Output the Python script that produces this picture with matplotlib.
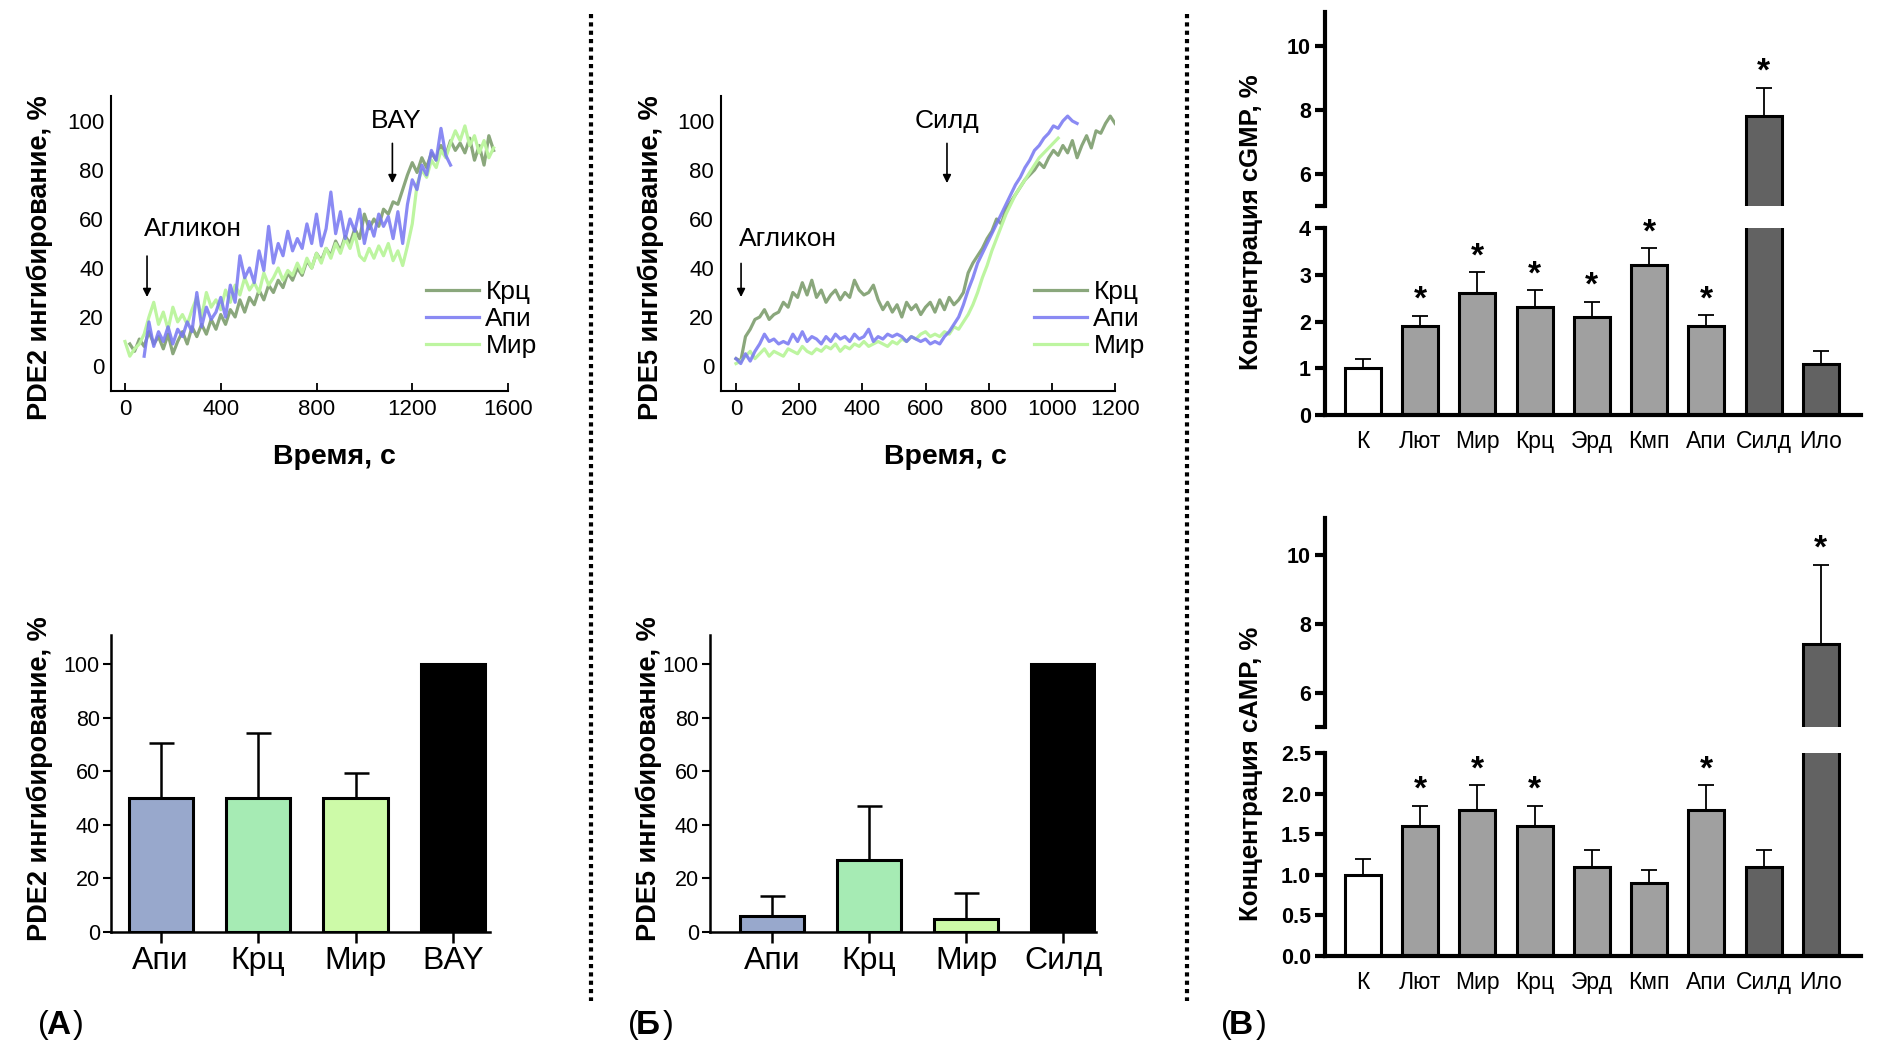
import numpy as np
import matplotlib
matplotlib.use("Agg")
import matplotlib.pyplot as plt
from matplotlib.lines import Line2D

plt.rcParams['font.family'] = ['Liberation Sans', 'DejaVu Sans']

W, H = 1880, 1048

# ---- PDE2 kinetics (panel A, top), sampled every 20 s
step_pde2 = 20
pde2_krc = [9, 6, 11, 8, 14, 9, 12, 7, 13, 5,
            10, 14, 9, 16, 12, 17, 13, 19, 15, 21,
            17, 23, 20, 27, 22, 28, 25, 31, 27, 33,
            30, 35, 32, 38, 35, 40, 37, 43, 40, 46,
            43, 48, 45, 51, 47, 53, 50, 56, 52, 62,
            56, 60, 57, 64, 62, 67, 66, 72, 78, 83,
            79, 85, 81, 87, 84, 90, 86, 92, 88, 91,
            87, 93, 84, 90, 82, 94, 88]            # t = 20..1540
pde2_api = [4, 18, 8, 14, 10, 16, 9, 15, 12, 18,
            14, 30, 16, 24, 19, 22, 28, 20, 33, 26,
            45, 36, 40, 34, 47, 39, 57, 42, 50, 45,
            55, 47, 52, 48, 58, 50, 62, 49, 56, 71,
            54, 63, 52, 60, 55, 64, 50, 59, 53, 62,
            57, 61, 52, 63, 50, 66, 76, 72, 82, 78,
            88, 84, 97, 86, 82]                    # t = 80..1360
pde2_mir = [10, 4, 7, 9, 13, 20, 26, 17, 22, 15,
            24, 18, 21, 17, 23, 28, 20, 30, 24, 27,
            23, 31, 26, 33, 29, 36, 31, 34, 30, 38,
            33, 36, 40, 35, 39, 37, 42, 38, 44, 40,
            46, 42, 48, 44, 50, 46, 52, 48, 54, 45,
            43, 48, 44, 49, 45, 50, 43, 47, 41, 49,
            58, 74, 80, 77, 84, 81, 88, 85, 91, 96,
            92, 98, 90, 94, 87, 92, 85, 89]        # t = 0..1540

# ---- PDE5 kinetics (panel Б, top), sampled every 15 s
step_pde5 = 15
pde5_krc = [3, 2, 12, 15, 19, 20, 23, 19, 21, 22,
            26, 24, 30, 28, 34, 29, 35, 28, 31, 26,
            29, 31, 27, 30, 28, 35, 31, 29, 30, 33,
            27, 23, 26, 22, 25, 20, 26, 23, 25, 21,
            24, 26, 22, 27, 23, 28, 25, 27, 30, 38,
            42, 45, 48, 52, 55, 60, 58, 64, 67, 70,
            73, 76, 78, 80, 83, 81, 85, 88, 86, 90,
            87, 92, 85, 90, 94, 89, 96, 95, 99, 102,
            99]                                    # t = 0..1200
pde5_api = [3, 1, 5, 2, 6, 9, 13, 10, 11, 9,
            10, 9, 13, 10, 14, 10, 12, 11, 9, 12,
            10, 13, 11, 12, 10, 13, 11, 12, 15, 10,
            12, 11, 13, 12, 13, 12, 10, 12, 11, 10,
            11, 9, 10, 9, 12, 14, 17, 20, 25, 31,
            36, 42, 46, 50, 54, 58, 62, 66, 70, 74,
            77, 81, 84, 88, 90, 93, 95, 98, 97, 100,
            102, 100, 99]                          # t = 0..1080
pde5_mir = [1, 2, 4, 6, 3, 5, 7, 4, 6, 5,
            4, 7, 6, 5, 8, 6, 5, 7, 6, 8,
            7, 9, 6, 8, 7, 9, 8, 10, 8, 9,
            10, 9, 8, 10, 9, 11, 10, 12, 11, 13,
            14, 12, 13, 12, 14, 13, 16, 15, 18, 21,
            25, 30, 36, 41, 47, 52, 57, 62, 66, 70,
            73, 76, 79, 82, 85, 87, 89, 91, 93]    # t = 0..1020

# ---- summary bars (bottom of A and Б)
cats_pde2 = ['Апи', 'Крц', 'Мир', 'BAY']
vals_pde2 = [50, 50, 50, 100]
err_pde2 = [20.5, 24.5, 9.5, 0]
cats_pde5 = ['Апи', 'Крц', 'Мир', 'Силд']
vals_pde5 = [6, 27, 5, 100]
err_pde5 = [7.5, 20, 9.5, 0]
summary_colors = ['#98a8cc', '#a6ebb4', '#cdfaa8', '#000000']

# ---- cyclic nucleotides (panel В)
cats_cn = ['К', 'Лют', 'Мир', 'Крц', 'Эрд', 'Кмп', 'Апи', 'Силд', 'Ило']
cgmp = [1.0, 1.9, 2.6, 2.3, 2.1, 3.2, 1.9, 7.8, 1.1]
cgmp_err = [0.2, 0.22, 0.45, 0.37, 0.32, 0.37, 0.23, 0.9, 0.26]
cgmp_sig = [False, True, True, True, True, True, True, True, False]
camp = [1.0, 1.6, 1.8, 1.6, 1.1, 0.9, 1.8, 1.1, 7.4]
camp_err = [0.2, 0.25, 0.3, 0.25, 0.2, 0.16, 0.3, 0.2, 2.3]
camp_sig = [False, True, True, True, False, False, True, False, True]
cn_colors = ['#ffffff'] + ['#a0a0a0'] * 6 + ['#626262'] * 2

c_krc, c_api, c_mir = '#8aa77c', '#7676f2', '#bdf5a0'

fig = plt.figure(figsize=(W / 100, H / 100), dpi=100)


def px_axes(x0, y0, x1, y1):
    return fig.add_axes([x0 / W, 1 - y1 / H, (x1 - x0) / W, (y1 - y0) / H])


def kinetics(ax, t_krc, krc, t_api, api, t_mir, mir, xticks):
    l1, = ax.plot(t_krc, krc, color=c_krc, lw=2.3, label='Крц')
    l3, = ax.plot(t_mir, mir, color=c_mir, lw=2.3, label='Мир')
    l2, = ax.plot(t_api, api, color=c_api, lw=2.3, alpha=0.85, label='Апи')
    ax.set_ylim(-10, 110)
    ax.set_yticks([0, 20, 40, 60, 80, 100])
    ax.set_xticks(xticks)
    for s in ['top', 'right']:
        ax.spines[s].set_visible(False)
    for s in ['left', 'bottom']:
        ax.spines[s].set_linewidth(1.5)
    ax.tick_params(axis='x', direction='in', length=6, width=1.3, labelsize=16, pad=6)
    ax.tick_params(axis='y', length=0, labelsize=16, pad=5)
    return [l1, l2, l3]


def summary(ax, cats, vals, errs):
    x = np.arange(len(cats))
    ax.bar(x, vals, width=0.66, color=summary_colors, edgecolor='k', linewidth=2.2, zorder=2)
    ax.errorbar(x, vals, yerr=[np.zeros(len(errs)), errs], fmt='none', ecolor='k',
                elinewidth=1.8, capsize=9, capthick=1.8, zorder=1)
    ax.set_ylim(0, 111)
    ax.set_yticks([0, 20, 40, 60, 80, 100])
    ax.set_xticks(x)
    ax.set_xticklabels(cats)
    for s in ['top', 'right']:
        ax.spines[s].set_visible(False)
    for s in ['left', 'bottom']:
        ax.spines[s].set_linewidth(1.8)
    ax.tick_params(axis='x', direction='out', length=8, width=1.8, labelsize=23, pad=2)
    ax.tick_params(axis='y', direction='out', length=6, width=1.5, labelsize=15.5, pad=2)


def broken(top_box, low_box, vals, errs, sig, low_max, low_ticks, low_labels):
    ax_u = px_axes(*top_box)
    ax_l = px_axes(*low_box)
    x = np.arange(len(cats_cn))
    for ax in (ax_u, ax_l):
        ax.bar(x, vals, width=0.63, color=cn_colors, edgecolor='k', linewidth=2.2, zorder=2)
        ax.errorbar(x, vals, yerr=[np.zeros(len(errs)), errs], fmt='none', ecolor='k',
                    elinewidth=1.3, capsize=6, capthick=1.3, zorder=1)
        ax.set_xlim(-0.66, 8.7)
        for s in ['top', 'right']:
            ax.spines[s].set_visible(False)
        ax.spines['left'].set_linewidth(3)
        ax.tick_params(axis='y', direction='out', length=7, width=3, labelsize=15.5, pad=3)
    ax_u.set_ylim(5, 11.06)
    ax_u.spines['bottom'].set_visible(False)
    ax_u.set_yticks([5, 6, 8, 10])
    ax_u.set_yticklabels(['', '6', '8', '10'], fontweight='bold')
    ax_u.set_xticks([])
    ax_l.set_ylim(0, low_max)
    ax_l.spines['bottom'].set_linewidth(3)
    ax_l.set_yticks(low_ticks)
    ax_l.set_yticklabels(low_labels, fontweight='bold')
    ax_l.set_xticks(x)
    ax_l.set_xticklabels(cats_cn)
    ax_l.tick_params(axis='x', length=0, labelsize=16.5, pad=11)
    for i in range(len(vals)):
        if not sig[i]:
            continue
        top = vals[i] + errs[i]
        ax = ax_u if top > 5 else ax_l
        ax.annotate('*', xy=(i, top), xytext=(0, 5), textcoords='offset points',
                    ha='center', va='baseline', fontsize=24, fontweight='bold')


# ---------- panel A, top
arrow = dict(arrowstyle='-|>', color='k', lw=1.2, mutation_scale=12)
legend_kw = dict(bbox_transform=fig.transFigure, loc='center left', frameon=False, fontsize=19,
                 handlelength=2.0, handletextpad=0.25, labelspacing=0.12, borderpad=0, borderaxespad=0)
axA = px_axes(111, 96.5, 508, 390.5)
hA = kinetics(axA, np.arange(20, 1541, step_pde2), pde2_krc,
              np.arange(80, 1361, step_pde2), pde2_api,
              np.arange(0, 1541, step_pde2), pde2_mir, [0, 400, 800, 1200, 1600])
axA.set_xlim(-58.5, 1600)
axA.annotate('', xy=(92, 27), xytext=(92, 46), arrowprops=arrow)
axA.text(80, 56, 'Агликон', fontsize=19, va='center', ha='left')
axA.annotate('', xy=(1117, 73.5), xytext=(1117, 92), arrowprops=arrow)
axA.text(1134, 100, 'BAY', fontsize=19, va='center', ha='center')
axA.legend(handles=hA, bbox_to_anchor=(426 / W, 1 - 319 / H), **legend_kw)

# ---------- panel Б, top
axB = px_axes(721, 96.5, 1115, 390.5)
hB = kinetics(axB, np.arange(0, 1201, step_pde5), pde5_krc,
              np.arange(0, 1081, step_pde5), pde5_api,
              np.arange(0, 1021, step_pde5), pde5_mir, [0, 200, 400, 600, 800, 1000, 1200])
axB.set_xlim(-47.5, 1200)
axB.annotate('', xy=(16, 27), xytext=(16, 43), arrowprops=arrow)
axB.text(9, 52, 'Агликон', fontsize=19, va='center', ha='left')
axB.annotate('', xy=(668, 73.5), xytext=(668, 92), arrowprops=arrow)
axB.text(668, 100, 'Силд', fontsize=19, va='center', ha='center')
axB.legend(handles=hB, bbox_to_anchor=(1034 / W, 1 - 319 / H), **legend_kw)

# ---------- bottom summary bars
axA2 = px_axes(111, 635, 490, 932)
summary(axA2, cats_pde2, vals_pde2, err_pde2)
axA2.set_xlim(-0.51, 3.38)
axB2 = px_axes(710, 635, 1096, 932)
summary(axB2, cats_pde5, vals_pde5, err_pde5)
axB2.set_xlim(-0.64, 3.34)

# ---------- panel В
broken((1325, 12, 1861, 206), (1325, 228, 1861, 415), cgmp, cgmp_err, cgmp_sig,
       4, [0, 1, 2, 3, 4], ['0', '1', '2', '3', '4'])
broken((1325, 518, 1861, 727), (1325, 753, 1861, 956), camp, camp_err, camp_sig,
       2.5, [0, 0.5, 1.0, 1.5, 2.0, 2.5], ['0.0', '0.5', '1.0', '1.5', '2.0', '2.5'])


# ---------- axis titles
def ftext(x, y, s, **kw):
    fig.text(x / W, 1 - y / H, s, ha='center', va='center', fontweight='bold', **kw)


ftext(40, 258, 'PDE2 ингибирование, %', rotation=90, fontsize=19.5)
ftext(651, 258, 'PDE5 ингибирование, %', rotation=90, fontsize=19.5)
ftext(40, 779, 'PDE2 ингибирование, %', rotation=90, fontsize=19.5)
ftext(649, 779, 'PDE5 ингибирование, %', rotation=90, fontsize=19.5)
ftext(334, 457, 'Время, с', fontsize=20.5)
ftext(945, 457, 'Время, с', fontsize=20.5)
ftext(1251, 222, 'Концентрация cGMP, %', rotation=90, fontsize=18.5)
ftext(1251, 774, 'Концентрация cAMP, %', rotation=90, fontsize=18.5)

# ---------- panel letters
for x0, letter in [(38, 'А'), (628, 'Б'), (1221, 'В')]:
    fig.text(x0 / W, 1 - 1025 / H, '(', fontsize=23, va='center', ha='left')
    fig.text((x0 + 8) / W, 1 - 1025 / H, letter, fontsize=24, fontweight='bold', va='center', ha='left')
    fig.text((x0 + 35) / W, 1 - 1025 / H, ')', fontsize=23, va='center', ha='left')

# ---------- dotted separators
for xs in (591, 1187):
    fig.add_artist(Line2D([xs / W, xs / W], [1 - 14 / H, 1 - 1001 / H], transform=fig.transFigure,
                          color='k', lw=3, linestyle=(0, (1, 1)), dash_capstyle='butt'))

fig.savefig('out.png', dpi=100)
